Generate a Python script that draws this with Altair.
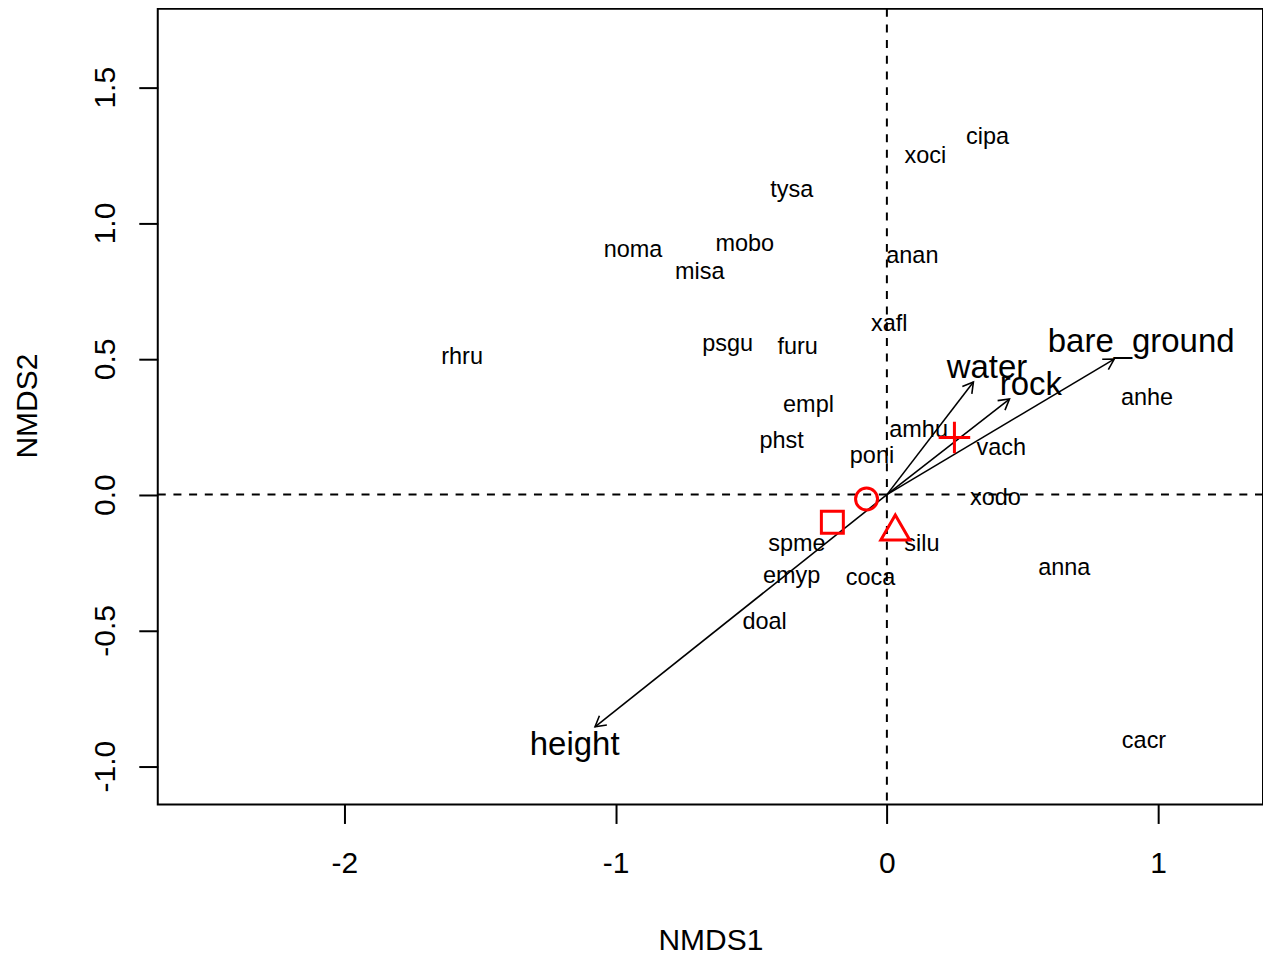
import altair as alt
import pandas as pd

# ---------------- data ----------------
species = ["cipa", "xoci", "tysa", "noma", "mobo", "misa", "anan", "xafl", "psgu",
           "furu", "rhru", "anhe", "empl", "phst", "amhu", "vach", "poni", "xodo",
           "spme", "silu", "anna", "emyp", "coca", "doal", "cacr"]
sp_x = [0.371, 0.142, -0.351, -0.936, -0.524, -0.690, 0.094, 0.009, -0.587,
        -0.329, -1.566, 0.959, -0.289, -0.388, 0.117, 0.422, -0.055, 0.400,
        -0.332, 0.129, 0.654, -0.351, -0.060, -0.451, 0.948]
sp_y = [1.318, 1.248, 1.120, 0.899, 0.924, 0.818, 0.878, 0.628, 0.554,
        0.543, 0.506, 0.354, 0.330, 0.197, 0.238, 0.171, 0.142, -0.012,
        -0.181, -0.181, -0.270, -0.299, -0.306, -0.468, -0.907]

vectors = ["water", "rock", "bare_ground", "height"]
vec_x = [0.319, 0.452, 0.838, -1.076]
vec_y = [0.415, 0.352, 0.499, -0.855]
lab_x = [0.369, 0.531, 0.9375, -1.151]
lab_y = [0.466, 0.404, 0.562, -0.921]

groups = ["g1", "g2", "g3", "g4"]
grp_x = [-0.075, -0.201, 0.031, 0.249]
grp_y = [-0.016, -0.102, -0.121, 0.210]

x_ticks = [-2, -1, 0, 1]
y_ticks = [-1.0, -0.5, 0.0, 0.5, 1.0, 1.5]

# ---------------- tables ----------------
sp_df = pd.DataFrame({"name": species, "x": sp_x, "y": sp_y})
vec_df = pd.DataFrame({"name": vectors, "vx": vec_x, "vy": vec_y,
                       "lx": lab_x, "ly": lab_y, "ox": 0.0, "oy": 0.0})
grp_df = pd.DataFrame({"grp": groups, "x": grp_x, "y": grp_y})
zero_df = pd.DataFrame({"v": [0.0]})

FONT = "Liberation Sans"

xs = alt.Scale(domain=[-2.688, 1.3866], nice=False, zero=False)
ys = alt.Scale(domain=[-1.141, 1.789], nice=False, zero=False)

x_axis = alt.Axis(values=x_ticks, labelExpr="replace(format(datum.value, 'd'), '\u2212', '-')",
                  grid=False, domain=False, tickSize=19, tickWidth=2, tickColor="black",
                  labelFont=FONT, labelFontSize=30, labelColor="black",
                  labelBaseline="alphabetic", labelPadding=49, labelFlush=False,
                  labelOverlap=False, labelBound=False,
                  title="NMDS1", titleFont=FONT, titleFontSize=30, titleFontWeight="normal",
                  titleColor="black", titleBaseline="alphabetic", titleY=145)
y_axis = alt.Axis(values=y_ticks, labelExpr="replace(format(datum.value, '.1f'), '\u2212', '-')",
                  grid=False, domain=False, tickSize=19, tickWidth=2, tickColor="black",
                  labelFont=FONT, labelFontSize=30, labelColor="black",
                  labelAngle=270, labelAlign="center", labelBaseline="alphabetic",
                  labelPadding=24, labelFlush=False, labelOverlap=False, labelBound=False,
                  title="NMDS2", titleFont=FONT, titleFontSize=30, titleFontWeight="normal",
                  titleColor="black", titleAngle=270, titleAlign="center",
                  titleBaseline="alphabetic", titleX=-121, titleY=397.5)


def X(f):
    return alt.X(f, type="quantitative", scale=xs, axis=x_axis)


def Y(f):
    return alt.Y(f, type="quantitative", scale=ys, axis=y_axis)


vline = alt.Chart(zero_df).mark_rule(color="black", strokeWidth=2, strokeDash=[8, 7.7]).encode(
    x=X("v"))
hline = alt.Chart(zero_df).mark_rule(color="black", strokeWidth=2, strokeDash=[8, 7.7]).encode(
    y=Y("v"))

sp_text = alt.Chart(sp_df).mark_text(font=FONT, fontSize=23.5, color="black",
                                     align="center", baseline="middle").encode(
    x=X("x"), y=Y("y"), text="name:N")

shafts = alt.Chart(vec_df).mark_rule(color="black", strokeWidth=1.6).encode(
    x=X("ox"), y=Y("oy"), x2="vx:Q", y2="vy:Q")

heads = alt.Chart(vec_df).transform_calculate(
    ang="(atan2(datum.vx, datum.vy) * 180 / PI + 360) % 360"
).mark_point(shape="M-0.5,0.866L0,0L0.5,0.866", size=576, filled=False,
             color="black", strokeWidth=1.6, opacity=1).encode(
    x=X("vx"), y=Y("vy"), angle=alt.Angle("ang:Q", scale=None))

vec_text = alt.Chart(vec_df).mark_text(font=FONT, fontSize=33, color="black",
                                       align="center", baseline="middle").encode(
    x=X("lx"), y=Y("ly"), text="name:N")

sym_shapes = ["circle", "square", "triangle-up", "M-1,0L1,0M0,-1L0,1"]
sym_sizes = [484, 484, 841, 1000]
sym_layers = []
for g, shp, sz in zip(groups, sym_shapes, sym_sizes):
    sym_layers.append(
        alt.Chart(grp_df).transform_filter(alt.datum.grp == g).mark_point(
            shape=shp, size=sz, filled=False, color="#ff0000", strokeWidth=3, opacity=1
        ).encode(x=X("x"), y=Y("y"))
    )

chart = alt.layer(vline, hline, sp_text, shafts, heads, vec_text, *sym_layers).properties(
    width=1107, height=797,
    padding={"left": 150, "top": 0, "right": 0, "bottom": 150},
    autosize=alt.AutoSizeParams(type="none"),
    background="white",
).configure_view(stroke="black", strokeWidth=2)

chart.save("out.html", embed_options={"renderer": "svg", "actions": False})
